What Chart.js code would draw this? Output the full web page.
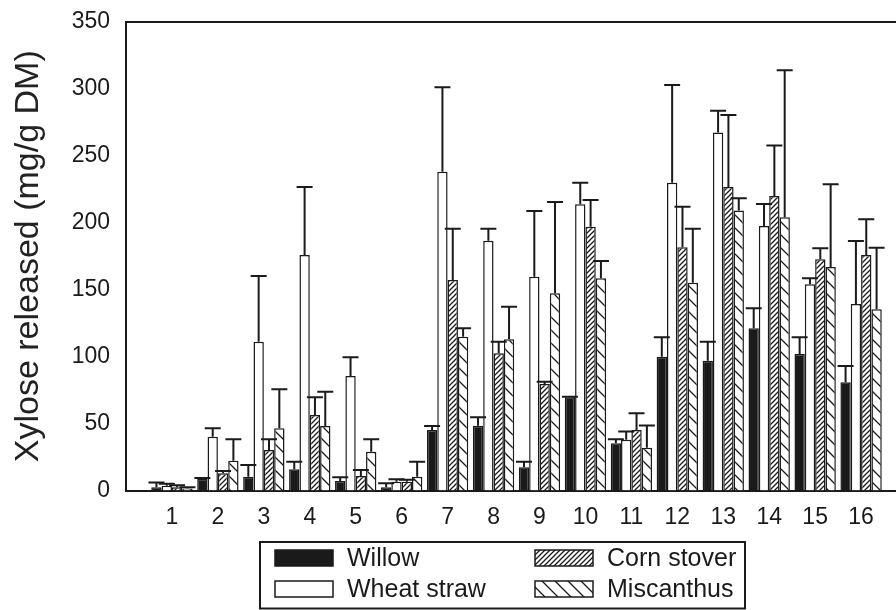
<!DOCTYPE html>
<html>
<head>
<meta charset="utf-8">
<script src="https://cdn.jsdelivr.net/npm/chart.js@4.4.1/dist/chart.umd.min.js"></script>
<style>
  html, body { margin: 0; padding: 0; background: #fff; }
  #wrap { width: 896px; height: 610px; }
</style>
</head>
<body>
<div id="wrap"><canvas id="chart" width="896" height="610"></canvas></div>
<script>
// pretreatment number on the x axis
const groups = [1, 2, 3, 4, 5, 6, 7, 8, 9, 10, 11, 12, 13, 14, 15, 16];
const seriesNames = ['Willow', 'Wheat straw', 'Corn stover', 'Miscanthus'];

// xylose released, mg/g DM (bar heights) and upper error (SD)
const willow    = [2.5, 8.8, 10.3, 15.8, 7.1, 2.5, 45.2, 48.4, 17.3, 69.6, 35.3, 100, 97, 121.2, 102, 80.8];
const willowErr = [3.5, 0.5, 8.7, 5.7, 2.8, 3, 3, 6.3, 4.2, 0.5, 2.9, 14.4, 14.2, 14.9, 12.4, 12.2];
const wheat     = [3.5, 40.2, 111.2, 175.9, 85.5, 6.6, 238.2, 186.6, 159.7, 213.8, 38, 230, 267.5, 197.6, 154, 139.3];
const wheatErr  = [1.5, 6.3, 49, 50.8, 14, 1.8, 63, 9, 49.1, 16.1, 6, 72.9, 16.2, 16.4, 4.5, 47.1];
const corn      = [2.5, 12.8, 30.3, 56.4, 10.8, 6.6, 157.3, 102.5, 79.6, 197.1, 45.2, 181.8, 226.7, 220, 172.7, 176];
const cornErr   = [1.5, 1.7, 7.9, 13.2, 4.5, 1.5, 38.3, 8.7, 1.7, 19.9, 12.5, 30.2, 53.8, 37.8, 8.3, 26.6];
const misc      = [1.5, 22.3, 46.5, 48.2, 29, 10.3, 114.9, 113, 147.3, 158.5, 32, 155.2, 209.2, 204.1, 166.9, 135.4];
const miscErr   = [1, 15.9, 29.1, 25.6, 9.2, 11.2, 6.3, 24.3, 68.2, 12.9, 16.5, 40.4, 9.1, 109.9, 61.8, 46];

const yTicks = [0, 50, 100, 150, 200, 250, 300, 350];

const INK = '#1a1a1a';
const FONT = '"Liberation Sans", Arial, sans-serif';

function makeHatch(size, draw) {
  const c = document.createElement('canvas');
  c.width = size; c.height = size;
  const g = c.getContext('2d');
  g.fillStyle = '#fff';
  g.fillRect(0, 0, size, size);
  g.strokeStyle = INK;
  g.lineWidth = 1.3;
  g.beginPath();
  draw(g, size);
  g.stroke();
  return g.createPattern(c, 'repeat');
}

// dense "////" for corn stover
const cornFill = makeHatch(5, (g, s) => {
  g.moveTo(-1, s + 1); g.lineTo(s + 1, -1);
  g.moveTo(-1, 1); g.lineTo(1, -1);
  g.moveTo(s - 1, s + 1); g.lineTo(s + 1, s - 1);
});
// sparse "\\\" for miscanthus
const miscFill = makeHatch(13, (g, s) => {
  g.moveTo(-1, -1); g.lineTo(s + 1, s + 1);
  g.moveTo(s - 1, -1); g.lineTo(s + 1, 1);
  g.moveTo(-1, s - 1); g.lineTo(1, s + 1);
});

const fills = [INK, '#fff', cornFill, miscFill];
const values = [willow, wheat, corn, misc];
const errors = [willowErr, wheatErr, cornErr, miscErr];

const datasets = seriesNames.map((name, i) => ({
  label: name,
  data: values[i],
  errors: errors[i],
  backgroundColor: fills[i],
  borderColor: INK,
  borderWidth: 1.5,
  categoryPercentage: 0.9,
  barPercentage: 1.0
}));

// one-sided error bars with caps
const errorBars = {
  id: 'errorBars',
  afterDatasetsDraw(chart) {
    const { ctx, scales: { y } } = chart;
    ctx.save();
    ctx.strokeStyle = INK;
    ctx.lineWidth = 2;
    chart.data.datasets.forEach((ds, i) => {
      chart.getDatasetMeta(i).data.forEach((bar, j) => {
        const top = y.getPixelForValue(ds.data[j] + ds.errors[j]);
        ctx.beginPath();
        ctx.moveTo(bar.x, bar.y);
        ctx.lineTo(bar.x, top);
        ctx.moveTo(bar.x - 8, top);
        ctx.lineTo(bar.x + 8, top);
        ctx.stroke();
      });
    });
    ctx.restore();
  }
};

// top frame line of the plot box
const frameTop = {
  id: 'frameTop',
  afterDraw(chart) {
    const { ctx, chartArea: a } = chart;
    ctx.save();
    ctx.strokeStyle = INK;
    ctx.lineWidth = 2;
    ctx.beginPath();
    ctx.moveTo(a.left, a.top);
    ctx.lineTo(a.right, a.top);
    ctx.stroke();
    ctx.restore();
  }
};

// boxed two-column legend under the axis
const boxLegend = {
  id: 'boxLegend',
  afterDraw(chart) {
    const ctx = chart.ctx;
    const colX = [275, 535];
    const rowY = [558, 589];
    ctx.save();
    ctx.strokeStyle = INK;
    ctx.lineWidth = 2;
    ctx.strokeRect(260, 542, 485, 66.5);
    ctx.font = '25px ' + FONT;
    ctx.textBaseline = 'middle';
    ctx.fillStyle = INK;
    seriesNames.forEach((name, i) => {
      const x = colX[Math.floor(i / 2)];
      const yc = rowY[i % 2];
      ctx.fillStyle = fills[i];
      ctx.fillRect(x, yc - 8, 58, 16);
      ctx.lineWidth = 1.5;
      ctx.strokeRect(x, yc - 8, 58, 16);
      ctx.fillStyle = INK;
      ctx.fillText(name, x + 72, yc + 1);
    });
    ctx.restore();
  }
};

new Chart(document.getElementById('chart'), {
  type: 'bar',
  data: { labels: groups, datasets },
  options: {
    responsive: false,
    animation: false,
    layout: { padding: { left: 0, right: 0, top: 22, bottom: 0 } },
    plugins: { legend: { display: false }, tooltip: { enabled: false } },
    scales: {
      x: {
        type: 'linear',
        min: 0,
        max: 16.76,
        offset: false,
        grid: { display: false, drawTicks: false, offset: false },
        border: { display: true, color: INK, width: 2 },
        afterBuildTicks: s => { s.ticks = groups.map(v => ({ value: v })); },
        afterFit: s => { s.height = 119.5; },
        ticks: {
          autoSkip: false,
          maxRotation: 0,
          padding: 13,
          color: INK,
          font: { family: FONT, size: 23 },
          callback: v => String(v)
        }
      },
      y: {
        min: 0,
        max: 350,
        // hidden tick marks still reserve their length, keeping the label gap
        grid: { display: false, drawTicks: true, tickLength: 14 },
        border: { display: true, color: INK, width: 2 },
        afterBuildTicks: s => { s.ticks = yTicks.map(v => ({ value: v })); },
        afterFit: s => { s.width = 126; },
        ticks: {
          padding: 2,
          color: INK,
          font: { family: FONT, size: 23 }
        },
        title: {
          display: true,
          text: 'Xylose released (mg/g DM)',
          color: '#222',
          font: { family: FONT, size: 34 },
          padding: { top: 8.6, bottom: 0 }
        }
      }
    }
  },
  plugins: [errorBars, frameTop, boxLegend]
});
</script>
</body>
</html>
